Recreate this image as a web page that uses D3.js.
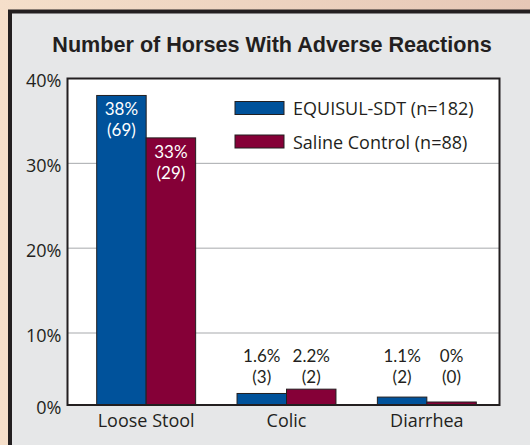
<!DOCTYPE html>
<html>
<head>
<meta charset="utf-8">
<script src="https://cdn.jsdelivr.net/npm/d3@7"></script>
<style>
  html, body { margin: 0; padding: 0; overflow: hidden; }
  svg { display: block; }
</style>
</head>
<body>
<div id="chart"></div>
<script>
// ── Data ─────────────────────────────────────────────────────
const categories = ['Loose Stool', 'Colic', 'Diarrhea'];
const seriesNames = ['EQUISUL-SDT (n=182)', 'Saline Control (n=88)'];
const equisulPct = [38, 1.6, 1.1];
const equisulCount = [69, 3, 2];
const salinePct = [33, 2.2, 0];
const salineCount = [29, 2, 0];
const yTicks = [0, 10, 20, 30, 40];

const COLORS = ['#00529b', '#850037'];
const FONT = '"Open Sans", "Noto Sans", sans-serif';
const LBL_FONT = 'Lato, "Open Sans", sans-serif';  // tighter line box for the stacked labels
const FS = 18;

const W = 530, H = 445;
const plot = { left: 67.5, right: 499.5, top: 78.5, bottom: 405 };

const svg = d3.select('#chart').append('svg')
  .attr('width', W).attr('height', H);

// ── Background ───────────────────────────────────────────────
const defs = svg.append('defs');
const grad = defs.append('linearGradient').attr('id', 'bg')
  .attr('x1', 0).attr('y1', 0).attr('x2', 1).attr('y2', 0);
grad.append('stop').attr('offset', 0).attr('stop-color', '#f5dfca');
grad.append('stop').attr('offset', 1).attr('stop-color', '#e6c7b6');
svg.append('rect').attr('width', W).attr('height', H).attr('fill', 'url(#bg)');

// panel
svg.append('rect')
  .attr('x', 10).attr('y', 11.5)
  .attr('width', W + 20).attr('height', H + 20)
  .attr('fill', '#e6e7e8')
  .attr('stroke', '#231f20').attr('stroke-width', 4);

svg.append('text')
  .attr('x', 272).attr('y', 52)
  .attr('text-anchor', 'middle')
  .attr('font-family', '"Liberation Sans", Arial, sans-serif')
  .attr('font-weight', 'bold').attr('font-size', 21.6)
  .attr('fill', '#231f20')
  .text('Number of Horses With Adverse Reactions');

// ── Scales ───────────────────────────────────────────────────
// the reference compresses the 0–10% band, so this is piecewise
const y = d3.scaleLinear()
  .domain([0, 10, 40])
  .range([plot.bottom, 333, plot.top]);

const x0 = d3.scaleBand()
  .domain(categories)
  .range([76, 497])
  .paddingInner(0.295)
  .paddingOuter(0.1475);

const x1 = d3.scaleBand()
  .domain([0, 1])
  .range([0, x0.bandwidth()]);

// plot area
svg.append('rect')
  .attr('x', plot.left).attr('y', plot.top)
  .attr('width', plot.right - plot.left).attr('height', plot.bottom - plot.top)
  .attr('fill', '#ffffff');

// gridlines
svg.append('g')
  .selectAll('line')
  .data(yTicks.filter(t => t > 0 && t < 40))
  .join('line')
  .attr('x1', plot.left).attr('x2', plot.right)
  .attr('y1', d => y(d)).attr('y2', d => y(d))
  .attr('stroke', '#a7a9ac').attr('stroke-width', 1);

// y axis labels
const yAxis = svg.append('g')
  .attr('transform', `translate(${plot.left},0)`)
  .call(d3.axisLeft(y).tickValues(yTicks).tickSize(0).tickPadding(6).tickFormat(d => d + '%'));
yAxis.select('.domain').remove();
yAxis.selectAll('text')
  .attr('font-family', FONT).attr('font-size', FS)
  .attr('fill', '#231f20').attr('dy', '0.45em');

// x axis labels
const xAxis = svg.append('g')
  .attr('transform', `translate(0,${plot.bottom})`)
  .call(d3.axisBottom(x0).tickSize(0).tickPadding(9));
xAxis.select('.domain').remove();
xAxis.selectAll('text')
  .attr('font-family', FONT).attr('font-size', FS)
  .attr('fill', '#231f20');

// ── Bars ─────────────────────────────────────────────────────
const rows = categories.map((c, i) => ({
  cat: c,
  vals: [
    { s: 0, pct: equisulPct[i], n: equisulCount[i] },
    { s: 1, pct: salinePct[i], n: salineCount[i] },
  ],
}));

const groups = svg.append('g').selectAll('g')
  .data(rows)
  .join('g')
  .attr('transform', d => `translate(${x0(d.cat)},0)`);

const barTop = d => Math.min(y(d.pct), plot.bottom - 3);

groups.selectAll('rect')
  .data(d => d.vals)
  .join('rect')
  .attr('x', d => x1(d.s))
  .attr('y', barTop)
  .attr('width', x1.bandwidth())
  .attr('height', d => plot.bottom - barTop(d))
  .attr('fill', d => COLORS[d.s])
  .attr('stroke', '#231f20').attr('stroke-width', 1);

// labels: inside tall bars (white), above short ones (dark)
groups.selectAll('text.lbl')
  .data(d => d.vals)
  .join('text')
  .attr('class', 'lbl')
  .attr('text-anchor', 'middle')
  .attr('font-family', LBL_FONT).attr('font-size', 17)
  .attr('fill', d => d.pct > 10 ? '#ffffff' : '#231f20')
  .each(function(d) {
    const cx = x1(d.s) + x1.bandwidth() / 2;
    const top = d.pct > 10 ? barTop(d) + 20 : y(6);
    const t = d3.select(this);
    t.append('tspan').attr('x', cx).attr('y', top).text(d.pct + '%');
    t.append('tspan').attr('x', cx).attr('y', top + 21).text(`(${d.n})`);
  });

// plot border
svg.append('rect')
  .attr('x', plot.left).attr('y', plot.top)
  .attr('width', plot.right - plot.left).attr('height', plot.bottom - plot.top)
  .attr('fill', 'none')
  .attr('stroke', '#231f20').attr('stroke-width', 2);

// ── Legend ───────────────────────────────────────────────────
const legend = svg.append('g').attr('transform', 'translate(235,101.5)');
seriesNames.forEach((name, i) => {
  const g = legend.append('g').attr('transform', `translate(0,${i * 33.5})`);
  g.append('rect')
    .attr('width', 49).attr('height', 13)
    .attr('fill', COLORS[i])
    .attr('stroke', '#231f20').attr('stroke-width', 1);
  g.append('text')
    .attr('x', 58).attr('y', 13.5)
    .attr('font-family', FONT).attr('font-size', FS)
    .attr('fill', '#231f20')
    .text(name);
});
</script>
</body>
</html>
